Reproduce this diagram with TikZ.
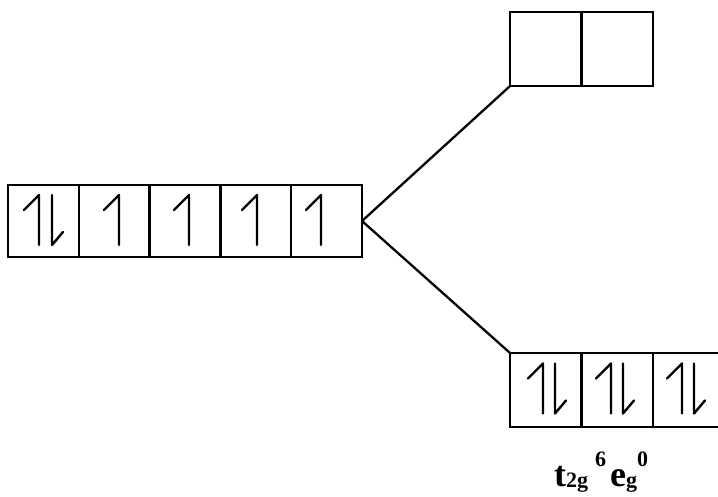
\documentclass[tikz,border=0pt]{standalone}
\usepackage{fontspec}
\setmainfont{Liberation Serif}
\begin{document}
\begin{tikzpicture}[x=1pt,y=-1pt,
  orb/.style={draw, line width=2.3pt, inner sep=0pt, outer sep=0pt,
              minimum width=70.8pt, minimum height=72pt},
  orbb/.style={orb, minimum width=71.3pt, minimum height=74pt},
  split/.style={line width=2.3pt},
  spin/.style={line width=2.4pt, line cap=round, line join=round},
  spinup/.pic={\draw[spin] (0,25) -- (0,-25) -- (-15,-10);},
  spindown/.pic={\draw[spin] (0,-25) -- (0,25) -- (11,12);}]
\useasboundingbox[fill=white] (0,0) rectangle (718,496);

% free-ion d orbitals
\node[orb] (L1) at (43.4,221) {};
\node[orb] (L2) at (114.2,221) {};
\node[orb] (L3) at (185,221) {};
\node[orb] (L4) at (255.8,221) {};
\node[orb] (L5) at (326.6,221) {};

% e_g set
\node[orbb] (T1) at (545.7,49) {};
\node[orbb] (T2) at (617,49) {};

% t_2g set
\node[orbb] (B1) at (545.7,390) {};
\node[orbb] (B2) at (617,390) {};
\node[orbb] (B3) at (688.3,390) {};

% splitting lines
\draw[split] (L5.east) -- (T1.south west);
\draw[split] (L5.east) -- (B1.north west);

% electrons
\pic at (39,220) {spinup};
\pic at (52,220) {spindown};
\pic at (119,220) {spinup};
\pic at (189,220) {spinup};
\pic at (257,220) {spinup};
\pic at (321,220) {spinup};

\pic at (543,388.5) {spinup};
\pic at (555,388.5) {spindown};
\pic at (611,388.5) {spinup};
\pic at (623,388.5) {spindown};
\pic at (682,388.5) {spinup};
\pic at (694,388.5) {spindown};

% configuration
\node[anchor=base west, inner sep=0pt, font=\bfseries] (cfg) at (554,486)
  {\fontsize{36}{36}\selectfont t\raisebox{-1pt}{\fontsize{22}{22}\selectfont 2g}\hspace{7pt}\raisebox{20pt}{\fontsize{22}{22}\selectfont 6}\hspace{4pt}e\raisebox{-1pt}{\fontsize{22}{22}\selectfont g}\raisebox{20pt}{\fontsize{22}{22}\selectfont 0}};
\end{tikzpicture}
\end{document}
